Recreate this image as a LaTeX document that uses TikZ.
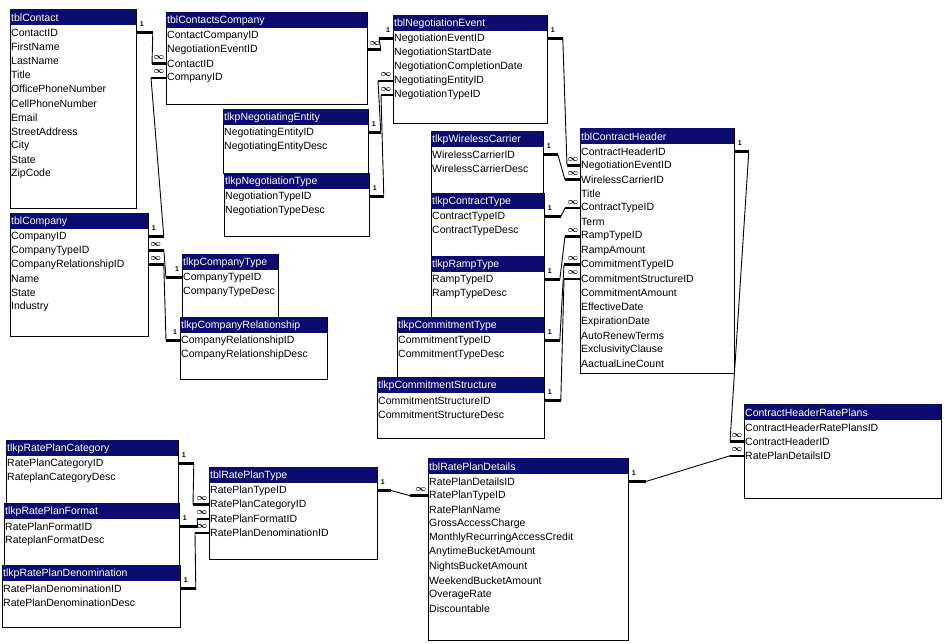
\documentclass[tikz,border=0pt]{standalone}
\usepackage{fontspec}
\setmainfont{Liberation Sans}
\usetikzlibrary{calc}
\definecolor{hdr}{RGB}{12,12,112}
\tikzset{
  tblbody/.style={draw=black, fill=white, line width=0.8pt, inner sep=0pt, anchor=north west},
  fld/.style={anchor=west, inner sep=0pt, font=\fontsize{10.5}{12}\selectfont},
  ttl/.style={anchor=west, inner sep=0pt, text=white, font=\fontsize{10.5}{12}\selectfont},
  stub/.style={line width=2.6pt},
  conn/.style={line width=0.9pt},
  onelbl/.style={font=\fontsize{7}{7}\selectfont\bfseries, inner sep=0pt},
  manylbl/.style={font=\boldmath\fontsize{9}{9}\selectfont, inner sep=0pt},
}
\newcommand\erdtbl[7]{%
  \pgfmathsetmacro\erdw{#4-#2}\pgfmathsetmacro\erdh{#5-#3}%
  \node[tblbody, minimum width=\erdw pt, minimum height=\erdh pt] (#1) at (#2,#3) {};
  \fill[hdr] (#2,#3) rectangle (#4,#3+16);
  \node[ttl] (#1-t) at (#2+1,#3+8.5) {#6};
  \foreach \f [count=\i] in {#7} {\node[fld] (#1-\i) at (#2+1,{#3+23.5+(\i-1)*14.15}) {\f};}
}
\newcommand\onestub[4]{%
  \draw[stub] #1 -- ++({#2*#3},0) coordinate (#4);
  \path #1 ++({#2*5},-8) node[onelbl] {1};
}
\newcommand\manystub[4]{%
  \draw[stub] #1 -- ++({#2*#3},0) coordinate (#4);
  \path #1 ++({#2*7},-6) node[manylbl] {$\infty$};
}
\begin{document}
\begin{tikzpicture}[x=1pt,y=-1pt]
\fill[white] (0,0) rectangle (945,644);
\useasboundingbox (0,0) rectangle (945,644);

\erdtbl{contact}{10}{9}{136}{208}{tblContact}{ContactID,FirstName,LastName,Title,OfficePhoneNumber,CellPhoneNumber,Email,StreetAddress,City,State,ZipCode}
\erdtbl{cc}{166}{12}{367}{104}{tblContactsCompany}{ContactCompanyID,NegotiationEventID,ContactID,CompanyID}
\erdtbl{ne}{393}{15}{547}{123}{tblNegotiationEvent}{NegotiationEventID,NegotiationStartDate,NegotiationCompletionDate,NegotiatingEntityID,NegotiationTypeID}
\erdtbl{nent}{223}{109}{368}{173}{tlkpNegotiatingEntity}{NegotiatingEntityID,NegotiatingEntityDesc}
\erdtbl{ntype}{224}{173}{369}{236}{tlkpNegotiationType}{NegotiationTypeID,NegotiationTypeDesc}
\erdtbl{company}{10}{213}{148}{336}{tblCompany}{CompanyID,CompanyTypeID,CompanyRelationshipID,Name,State,Industry}
\erdtbl{ctype}{182}{254}{278}{317}{tlkpCompanyType}{CompanyTypeID,CompanyTypeDesc}
\erdtbl{crel}{180}{317}{327}{379}{tlkpCompanyRelationship}{CompanyRelationshipID,CompanyRelationshipDesc}
\erdtbl{wc}{431}{131}{543}{193}{tlkpWirelessCarrier}{WirelessCarrierID,WirelessCarrierDesc}
\erdtbl{ct}{431}{193}{544}{256}{tlkpContractType}{ContractTypeID,ContractTypeDesc}
\erdtbl{rt}{431}{256}{544}{317}{tlkpRampType}{RampTypeID,RampTypeDesc}
\erdtbl{cmt}{397}{317}{544}{377}{tlkpCommitmentType}{CommitmentTypeID,CommitmentTypeDesc}
\erdtbl{cms}{377}{377}{544}{438}{tlkpCommitmentStructure}{CommitmentStructureID,CommitmentStructureDesc}
\erdtbl{ch}{580}{128}{734}{373}{tblContractHeader}{ContractHeaderID,NegotiationEventID,WirelessCarrierID,Title,ContractTypeID,Term,RampTypeID,RampAmount,CommitmentTypeID,CommitmentStructureID,CommitmentAmount,EffectiveDate,ExpirationDate,AutoRenewTerms,ExclusivityClause,AactualLineCount}
\erdtbl{chrp}{744}{404}{941}{498}{ContractHeaderRatePlans}{ContractHeaderRatePlansID,ContractHeaderID,RatePlanDetailsID}
\erdtbl{rpc}{6}{440}{178}{503}{tlkpRatePlanCategory}{RatePlanCategoryID,RateplanCategoryDesc}
\erdtbl{rpf}{4}{503}{179}{565}{tlkpRatePlanFormat}{RatePlanFormatID,RateplanFormatDesc}
\erdtbl{rpdn}{2}{565}{180}{627}{tlkpRatePlanDenomination}{RatePlanDenominationID,RatePlanDenominationDesc}
\erdtbl{rpt}{209}{467}{377}{559}{tblRatePlanType}{RatePlanTypeID,RatePlanCategoryID,RatePlanFormatID,RatePlanDenominationID}
\erdtbl{rpd}{428}{458}{628}{640}{tblRatePlanDetails}{RatePlanDetailsID,RatePlanTypeID,RatePlanName,GrossAccessCharge,MonthlyRecurringAccessCredit,AnytimeBucketAmount,NightsBucketAmount,WeekendBucketAmount,OverageRate,Discountable}

% relationships
\onestub{(contact.east |- contact-1)}{1}{16}{r1a}
\manystub{(cc.west |- cc-3)}{-1}{14}{r1b}
\draw[conn] (r1a) -- (r1b);

\onestub{(company.east |- company-1)}{1}{15}{r2a}
\manystub{(cc.west |- cc-4)}{-1}{15}{r2b}
\draw[conn] (r2a) -- (r2b);

\manystub{(company.east |- company-2)}{1}{15}{r3a}
\onestub{(ctype.west |- ctype-1)}{-1}{16}{r3b}
\draw[conn] (r3a) -- (r3b);

\manystub{(company.east |- company-3)}{1}{15}{r4a}
\onestub{(crel.west |- crel-1)}{-1}{14}{r4b}
\draw[conn] (r4a) -- (r4b);

\onestub{(ne.west |- ne-1)}{-1}{14}{r5a}
\manystub{(cc.east |- cc-2)}{1}{13}{r5b}
\draw[conn] (r5a) -- (r5b);

\onestub{(nent.east |- nent-1)}{1}{12}{r6a}
\manystub{(ne.west |- ne-4)}{-1}{15}{r6b}
\draw[conn] (r6a) -- (r6b);

\onestub{(ntype.east |- ntype-1)}{1}{14}{r7a}
\manystub{(ne.west |- ne-5)}{-1}{12}{r7b}
\draw[conn] (r7a) -- (r7b);

\onestub{(ne.east |- ne-1)}{1}{15}{r8a}
\manystub{(ch.west |- ch-2)}{-1}{13}{r8b}
\draw[conn] (r8a) -- (r8b);

\onestub{(wc.east |- wc-1)}{1}{14}{r9a}
\manystub{(ch.west |- ch-3)}{-1}{15}{r9b}
\draw[conn] (r9a) -- (r9b);

\onestub{(ct.east |- ct-1)}{1}{16}{r10a}
\manystub{(ch.west |- ch-5)}{-1}{15}{r10b}
\draw[conn] (r10a) -- (r10b);

\onestub{(rt.east |- rt-1)}{1}{15}{r11a}
\manystub{(ch.west |- ch-7)}{-1}{15}{r11b}
\draw[conn] (r11a) -- (r11b);

\onestub{(cmt.east |- cmt-1)}{1}{15}{r12a}
\manystub{(ch.west |- ch-9)}{-1}{16}{r12b}
\draw[conn] (r12a) -- (r12b);

\onestub{(cms.east |- cms-1)}{1}{16}{r13a}
\manystub{(ch.west |- ch-10)}{-1}{16}{r13b}
\draw[conn] (r13a) -- (r13b);

\onestub{(ch.east |- ch-1)}{1}{14}{r14a}
\manystub{(chrp.west |- chrp-2)}{-1}{14}{r14b}
\draw[conn] (r14a) -- (r14b);

\onestub{(rpd.east |- rpd-1)}{1}{17}{r15a}
\manystub{(chrp.west |- chrp-3)}{-1}{14}{r15b}
\draw[conn] (r15a) -- (r15b);

\onestub{(rpt.east |- rpt-1)}{1}{13}{r16a}
\manystub{(rpd.west |- rpd-2)}{-1}{18}{r16b}
\draw[conn] (r16a) -- (r16b);

\onestub{(rpc.east |- rpc-1)}{1}{15}{r17a}
\manystub{(rpt.west |- rpt-2)}{-1}{16}{r17b}
\draw[conn] (r17a) -- (r17b);

\onestub{(rpf.east |- rpf-1)}{1}{18}{r18a}
\manystub{(rpt.west |- rpt-3)}{-1}{12}{r18b}
\draw[conn] (r18a) -- (r18b);

\onestub{(rpdn.east |- rpdn-1)}{1}{15}{r19a}
\manystub{(rpt.west |- rpt-4)}{-1}{14}{r19b}
\draw[conn] (r19a) -- (r19b);
\end{tikzpicture}
\end{document}
